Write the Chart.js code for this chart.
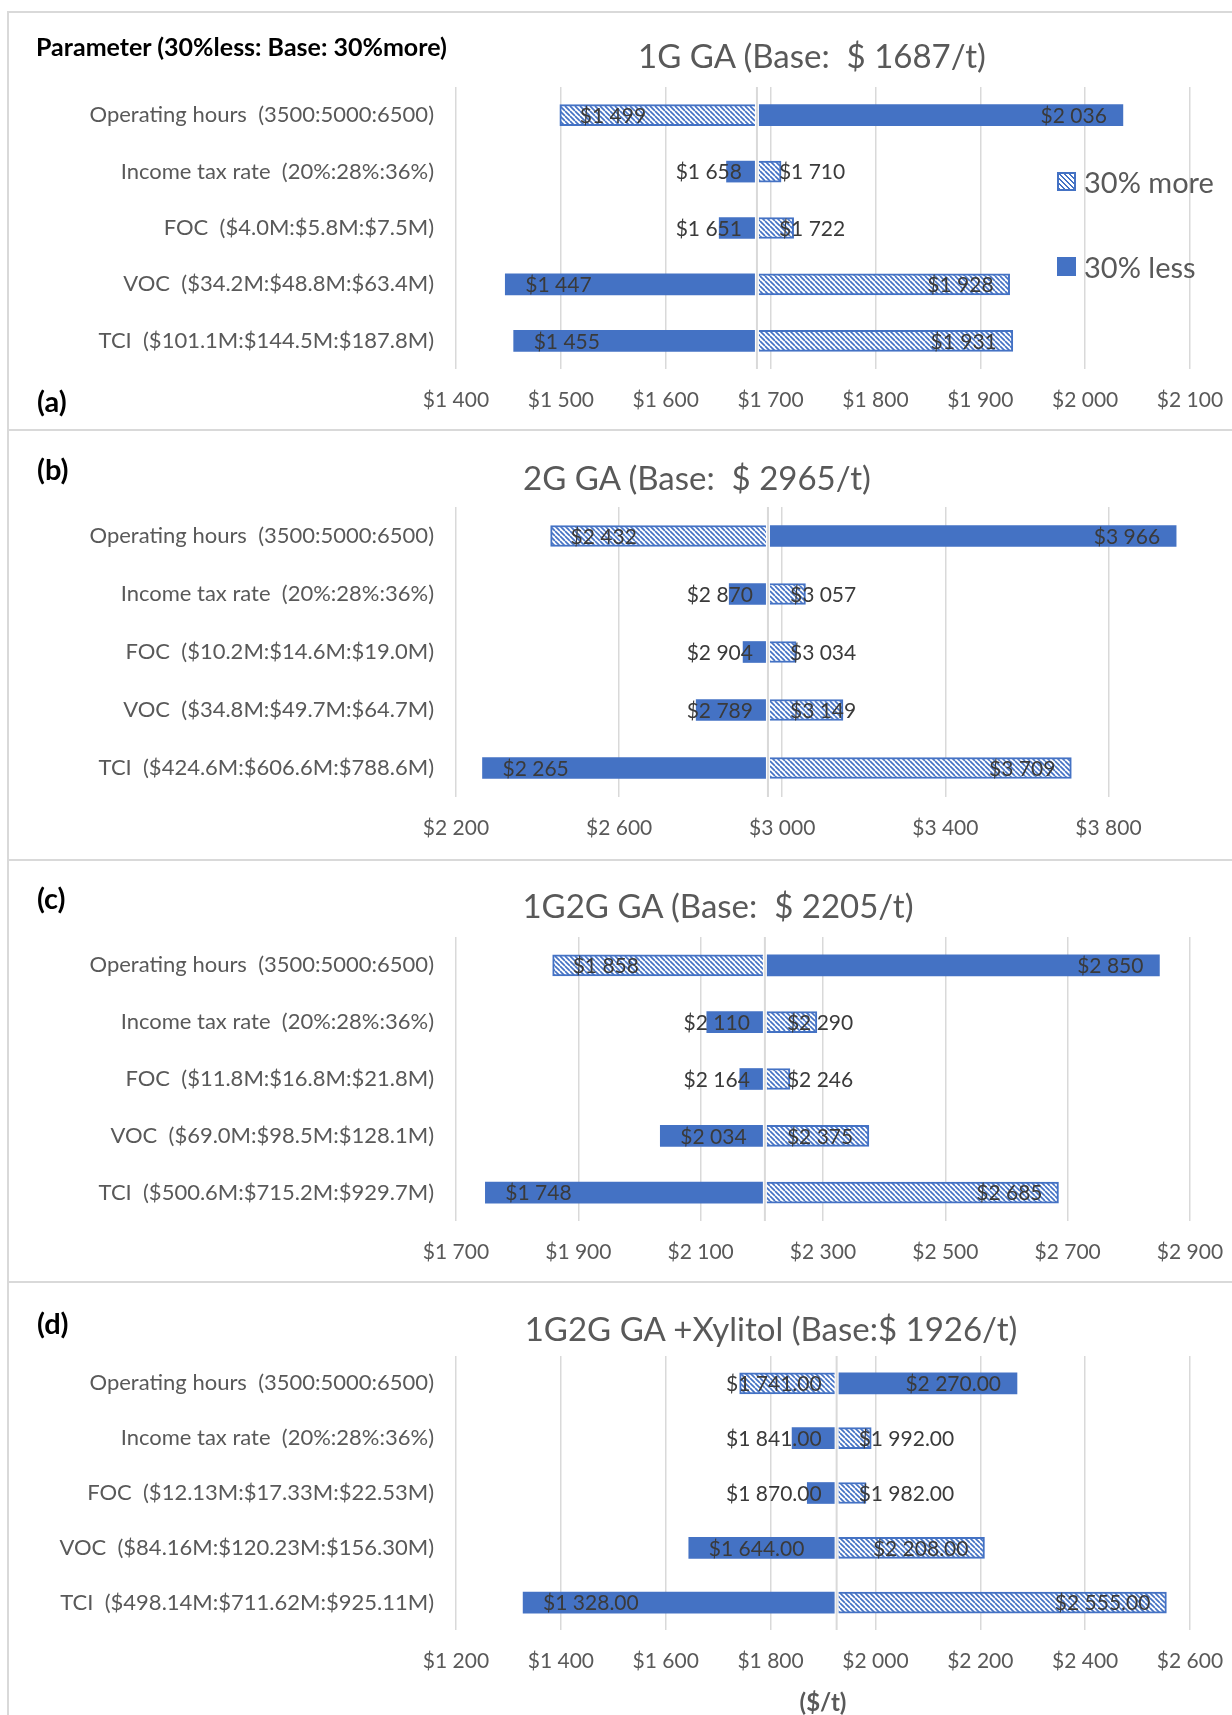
<!DOCTYPE html>
<html><head><meta charset="utf-8">
<script src="https://cdn.jsdelivr.net/npm/chart.js@4.4.1/dist/chart.umd.min.js"></script>
<style>
html,body{margin:0;padding:0;background:#fff;}
#page{position:relative;width:1232px;height:1715px;overflow:hidden;background:#fff;font-family:Lato,'Open Sans',sans-serif;}
.t{position:absolute;white-space:pre;line-height:1;}
canvas{position:absolute;left:0;}
.hl{position:absolute;left:7px;right:0;height:2px;background:#d9d9d9;}
.vl{position:absolute;left:7px;width:2px;top:11px;bottom:0;background:#d9d9d9;}
</style></head><body><div id="page"></div>
<script>
// ---------- data ----------
const seriesNames = ["30% less", "30% more"];
const headerText = "Parameter (30%less: Base: 30%more)";
const unitText = "($/t)";
const panelTags = ["(a)", "(b)", "(c)", "(d)"];
const titles = ["1G GA (Base:  $ 1687/t)", "2G GA (Base:  $ 2965/t)", "1G2G GA (Base:  $ 2205/t)", "1G2G GA +Xylitol (Base:$ 1926/t)"];
const baseValues = [1687, 2965, 2205, 1926];

const catsA = ["Operating hours  (3500:5000:6500)", "Income tax rate  (20%:28%:36%)", "FOC  ($4.0M:$5.8M:$7.5M)", "VOC  ($34.2M:$48.8M:$63.4M)", "TCI  ($101.1M:$144.5M:$187.8M)"];
const catsB = ["Operating hours  (3500:5000:6500)", "Income tax rate  (20%:28%:36%)", "FOC  ($10.2M:$14.6M:$19.0M)", "VOC  ($34.8M:$49.7M:$64.7M)", "TCI  ($424.6M:$606.6M:$788.6M)"];
const catsC = ["Operating hours  (3500:5000:6500)", "Income tax rate  (20%:28%:36%)", "FOC  ($11.8M:$16.8M:$21.8M)", "VOC  ($69.0M:$98.5M:$128.1M)", "TCI  ($500.6M:$715.2M:$929.7M)"];
const catsD = ["Operating hours  (3500:5000:6500)", "Income tax rate  (20%:28%:36%)", "FOC  ($12.13M:$17.33M:$22.53M)", "VOC  ($84.16M:$120.23M:$156.30M)", "TCI  ($498.14M:$711.62M:$925.11M)"];

const lessA = [2036, 1658, 1651, 1447, 1455];
const moreA = [1499, 1710, 1722, 1928, 1931];
const lessB = [3966, 2870, 2904, 2789, 2265];
const moreB = [2432, 3057, 3034, 3149, 3709];
const lessC = [2850, 2110, 2164, 2034, 1748];
const moreC = [1858, 2290, 2246, 2375, 2685];
const lessD = [2270, 1841, 1870, 1644, 1328];
const moreD = [1741, 1992, 1982, 2208, 2555];

const ticksA = [1400, 1500, 1600, 1700, 1800, 1900, 2000, 2100];
const ticksB = [2200, 2600, 3000, 3400, 3800];
const ticksC = [1700, 1900, 2100, 2300, 2500, 2700, 2900];
const ticksD = [1200, 1400, 1600, 1800, 2000, 2200, 2400, 2600];
const axisMax = [2100, 4000, 2900, 2600];
const labelDecimals = [0, 0, 0, 2];

// ---------- styling / layout ----------
const BLUE = '#4472C4';
const FONT = "Lato, 'Open Sans', sans-serif";
const page = document.getElementById('page');
const layout = [
  {top: 11, h: 418, padTop: 76, xH: 60, tagY: 400, titleX: 812, titleY: 55},
  {top: 431, h: 428, padTop: 76, xH: 62, tagY: 468, titleX: 697, titleY: 477},
  {top: 861, h: 420, padTop: 76, xH: 60, tagY: 897, titleX: 718, titleY: 905},
  {top: 1283, h: 432, padTop: 73, xH: 85, tagY: 1322, titleX: 771, titleY: 1328}
];

function addText(txt, x, y, css, center) {
  const d = document.createElement('div');
  d.className = 't';
  d.textContent = txt;
  d.style.cssText += `left:${x}px;top:${y}px;transform:translate(${center ? '-50%' : '0'},-50%);` + css;
  page.appendChild(d);
  return d;
}
function addEl(cls, css) {
  const d = document.createElement('div');
  d.className = cls; d.style.cssText = css; page.appendChild(d); return d;
}
function money(v, dec) {
  const s = Math.abs(v).toFixed(dec);
  const [ip, fp] = s.split('.');
  const grouped = ip.replace(/\B(?=(\d{3})+(?!\d))/g, ' ');
  return '$' + grouped + (fp ? '.' + fp : '');
}
function makeHatch() {
  const n = 5;
  const c = document.createElement('canvas'); c.width = n; c.height = n;
  const g = c.getContext('2d');
  g.fillStyle = '#fff'; g.fillRect(0, 0, n, n);
  g.strokeStyle = BLUE; g.lineWidth = 1.7;
  for (const o of [-n, 0, n]) { g.beginPath(); g.moveTo(o, 0); g.lineTo(o + n, n); g.stroke(); }
  return g.createPattern(c, 'repeat');
}
const hatch = makeHatch();

// borders
[11, 429, 859, 1281].forEach(y => addEl('hl', `top:${y}px;`));
addEl('vl', '');

const labelPlugin = {
  id: 'barLabels',
  afterDatasetsDraw(chart, args, opts) {
    const ctx = chart.ctx, xs = chart.scales.x, ca = chart.chartArea;
    const base = opts.base, xb = xs.getPixelForValue(base);
    ctx.save();
    ctx.beginPath(); ctx.moveTo(xb, ca.top); ctx.lineTo(xb, ca.bottom);
    ctx.strokeStyle = '#fff'; ctx.lineWidth = 4; ctx.stroke();
    ctx.beginPath(); ctx.moveTo(xb, ca.top); ctx.lineTo(xb, ca.bottom);
    ctx.strokeStyle = '#d9d9d9'; ctx.lineWidth = 2; ctx.stroke();
    ctx.font = `21px ${FONT}`; ctx.fillStyle = '#3a3a3a'; ctx.textBaseline = 'middle'; ctx.textAlign = 'left';
    chart.data.datasets.forEach((ds, di) => {
      const meta = chart.getDatasetMeta(di);
      meta.data.forEach((el, i) => {
        const v = ds.data[i][1];
        const xv = xs.getPixelForValue(v);
        const txt = money(v, opts.dec);
        const w = ctx.measureText(txt).width;
        let left;
        if (v < base) { left = xv + 20; if (left + w > xb - 15) left = xb - 15 - w; }
        else { left = xv - 16 - w; if (left < xb + 22) left = xb + 22; }
        ctx.fillText(txt, left, el.y + 1);
      });
    });
    ctx.restore();
  }
};

const panels = [
  {cats: catsA, less: lessA, more: moreA, ticks: ticksA},
  {cats: catsB, less: lessB, more: moreB, ticks: ticksB},
  {cats: catsC, less: lessC, more: moreC, ticks: ticksC},
  {cats: catsD, less: lessD, more: moreD, ticks: ticksD}
];

panels.forEach((p, k) => {
  const L = layout[k], base = baseValues[k];
  const cv = document.createElement('canvas');
  cv.width = 1232; cv.height = L.h;
  cv.style.top = L.top + 'px'; cv.style.width = '1232px'; cv.style.height = L.h + 'px';
  page.appendChild(cv);
  addText(titles[k], L.titleX, L.titleY, `font-size:33px;color:#595959;font-family:${FONT};`, true);
  addText(panelTags[k], 37, L.tagY, `font-size:29px;font-weight:bold;color:#000;font-family:${FONT};`, false);
  new Chart(cv.getContext('2d'), {
    type: 'bar',
    data: {
      labels: p.cats,
      datasets: [
        {label: seriesNames[0], data: p.less.map(v => [base, v]), backgroundColor: BLUE, borderColor: BLUE,
         borderWidth: 0, borderSkipped: false, grouped: false, barThickness: 21},
        {label: seriesNames[1], data: p.more.map(v => [base, v]), backgroundColor: hatch, borderColor: BLUE,
         borderWidth: 2, borderSkipped: false, grouped: false, barThickness: 21}
      ]
    },
    options: {
      indexAxis: 'y', responsive: false, animation: false, devicePixelRatio: 1,
      layout: {padding: {top: L.padTop, right: 42, left: 0, bottom: 0}},
      plugins: {legend: {display: false}, tooltip: {enabled: false},
        barLabels: {base: base, dec: labelDecimals[k]}},
      scales: {
        x: {type: 'linear', min: p.ticks[0], max: axisMax[k],
          afterBuildTicks: s => { s.ticks = p.ticks.map(v => ({value: v})); },
          afterFit: s => { s.height = L.xH; s.paddingLeft = 0; s.paddingRight = 0; },
          grid: {color: '#d9d9d9', lineWidth: 1.5, drawTicks: false},
          border: {display: false},
          ticks: {color: '#595959', font: {family: FONT, size: 21}, padding: 19, maxRotation: 0, autoSkip: false,
            callback: v => money(v, 0)}},
        y: {type: 'category',
          afterFit: s => { s.width = 456; },
          grid: {display: false}, border: {display: false},
          ticks: {color: '#595959', font: {family: FONT, size: 22}, padding: 14, autoSkip: false}}
      }
    },
    plugins: [labelPlugin]
  });
});

// header, legend, unit
addText(headerText, 36, 46, `font-size:25px;font-weight:bold;color:#000;font-family:${FONT};`, false);
const legendRows = [{name: seriesNames[1], y: 181, hatched: true}, {name: seriesNames[0], y: 266, hatched: false}];
legendRows.forEach(r => {
  addEl('t', `left:1057px;top:${r.y - 9}px;width:19px;height:19px;box-sizing:border-box;` +
    (r.hatched ? `border:2px solid ${BLUE};background:repeating-linear-gradient(45deg,${BLUE} 0 1.2px,#fff 1.2px 3.5px);` : `background:${BLUE};`));
  addText(r.name, 1084, r.y, `font-size:29px;color:#595959;font-family:${FONT};`, false);
});
addText(unitText, 823, 1702, `font-size:24px;font-weight:bold;color:#595959;font-family:${FONT};`, true);
</script></body></html>
